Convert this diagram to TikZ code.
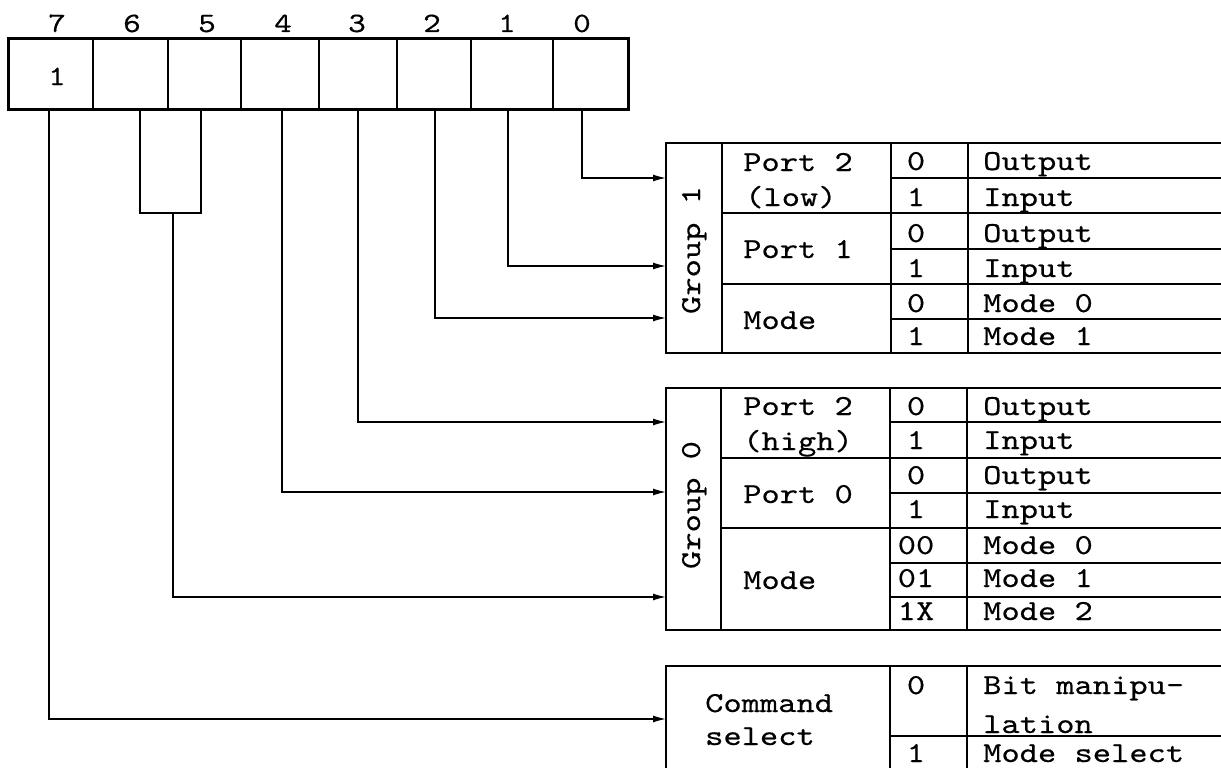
\documentclass[tikz,border=0pt]{standalone}
\usepackage{fontspec}
\newfontfamily\tabfont{lmmono10-regular.otf}[FakeStretch=1.2,FakeBold=0.4]
\usetikzlibrary{arrows.meta}
\begin{document}
\begin{tikzpicture}[x=1pt,y=-1pt,
  regcell/.style={draw, line width=1.3pt, minimum height=70pt, inner sep=0pt},
  bitlbl/.style={anchor=base, inner sep=0pt, font=\tabfont\fontsize{28}{30}\selectfont},
  txt/.style={anchor=base west, inner sep=0pt, font=\tabfont\fontsize{29}{33}\selectfont},
  codetxt/.style={anchor=base, inner sep=0pt, font=\tabfont\fontsize{29}{33}\selectfont},
  grp/.style={rotate=90, anchor=base, inner sep=0pt, font=\tabfont\fontsize{29}{33}\selectfont},
  tframe/.style={line width=2.2pt},
  tline/.style={line width=1.5pt},
  conn/.style={line width=1.3pt},
  arr/.style={conn, -{Latex[length=13pt,width=7pt]}},
]
\useasboundingbox (0,0) rectangle (1221,768);

% register
\node[regcell, minimum width=84pt] (b7) at (51,74) {};
\node[regcell, minimum width=75pt] (b6) at (130.5,74) {};
\node[regcell, minimum width=73pt] (b5) at (204.5,74) {};
\node[regcell, minimum width=78pt] (b4) at (280,74) {};
\node[regcell, minimum width=78pt] (b3) at (358,74) {};
\node[regcell, minimum width=74pt] (b2) at (434,74) {};
\node[regcell, minimum width=82pt] (b1) at (512,74) {};
\node[regcell, minimum width=75pt] (b0) at (590.5,74) {};
\draw[tframe] (b7.north west) rectangle (b0.south east);
\node[bitlbl] (v7) at (57,85) {1};

\node[bitlbl] (l7) at (57,32) {7};
\node[bitlbl] (l6) at (132,32) {6};
\node[bitlbl] (l5) at (207,32) {5};
\node[bitlbl] (l4) at (283,32) {4};
\node[bitlbl] (l3) at (357,32) {3};
\node[bitlbl] (l2) at (432,32) {2};
\node[bitlbl] (l1) at (507,32) {1};
\node[bitlbl] (l0) at (582,32) {0};

% entry points
\coordinate (in0) at (666,178);
\coordinate (in1) at (666,266);
\coordinate (in2) at (666,318);
\coordinate (in3) at (666,422);
\coordinate (in4) at (666,492);
\coordinate (in65) at (666,597);
\coordinate (in7) at (666,719);
\coordinate (br) at (173,213);

% connectors
\draw[arr] ([xshift=-8.5pt]b0.south) |- (in0);
\draw[arr] ([xshift=-4pt]b1.south) |- (in1);
\draw[arr] ([xshift=1pt]b2.south) |- (in2);
\draw[arr] (b3.south) |- (in3);
\draw[arr] ([xshift=2pt]b4.south) |- (in4);
\draw[conn] ([xshift=9.5pt]b6.south) |- (br) -| ([xshift=-3.5pt]b5.south);
\draw[arr] (br) |- (in65);
\draw[arr] ([xshift=-2pt]b7.south) |- (in7);

% Group 1 table
\draw[tframe] (1221,143) -- (666,143) -- (666,353) -- (1221,353);
\draw[tline] (722,143) -- (722,353) (891,143) -- (891,353) (968,143) -- (968,353);
\draw[tline] (722,213) -- (1221,213) (722,284) -- (1221,284);
\draw[tline] (891,178) -- (1221,178) (891,249) -- (1221,249) (891,319) -- (1221,319);
\node[grp] (g1) at (700,250) {Group 1};
\node[txt] (g1p2) at (743,171) {Port 2};
\node[txt] (g1low) at (745,206) {(low)};
\node[txt] (g1p1) at (743,258) {Port 1};
\node[txt] (g1m) at (743,329) {Mode};
\node[codetxt] (g1c1) at (916,170) {0};
\node[codetxt] (g1c2) at (916,206) {1};
\node[codetxt] (g1c3) at (916,242) {0};
\node[codetxt] (g1c4) at (916,277) {1};
\node[codetxt] (g1c5) at (916,312) {0};
\node[codetxt] (g1c6) at (916,345) {1};
\node[txt] (g1v1) at (983,170) {Output};
\node[txt] (g1v2) at (983,206) {Input};
\node[txt] (g1v3) at (983,242) {Output};
\node[txt] (g1v4) at (983,277) {Input};
\node[txt] (g1v5) at (983,312) {Mode 0};
\node[txt] (g1v6) at (983,345) {Mode 1};

% Group 0 table
\draw[tframe] (1221,388) -- (666,388) -- (666,630) -- (1221,630);
\draw[tline] (721,388) -- (721,630) (890,388) -- (890,630) (967,388) -- (967,630);
\draw[tline] (721,458) -- (1221,458) (721,528) -- (1221,528);
\draw[tline] (890,422) -- (1221,422) (890,493) -- (1221,493) (890,563) -- (1221,563) (890,597) -- (1221,597);
\node[grp] (g0) at (700,505) {Group 0};
\node[txt] (g0p2) at (743,415) {Port 2};
\node[txt] (g0high) at (743,450) {(high)};
\node[txt] (g0p0) at (743,503) {Port 0};
\node[txt] (g0m) at (743,589) {Mode};
\node[codetxt] (g0c1) at (916,415) {0};
\node[codetxt] (g0c2) at (916,449) {1};
\node[codetxt] (g0c3) at (916,484) {0};
\node[codetxt] (g0c4) at (916,518) {1};
\node[codetxt] (g0c5) at (916,554) {00};
\node[codetxt] (g0c6) at (916,587) {01};
\node[codetxt] (g0c7) at (916,620) {1X};
\node[txt] (g0v1) at (983,415) {Output};
\node[txt] (g0v2) at (983,449) {Input};
\node[txt] (g0v3) at (983,484) {Output};
\node[txt] (g0v4) at (983,518) {Input};
\node[txt] (g0v5) at (983,554) {Mode 0};
\node[txt] (g0v6) at (983,587) {Mode 1};
\node[txt] (g0v7) at (983,620) {Mode 2};

% Command select table
\draw[tframe] (666,768) -- (666,666) -- (1221,666);
\draw[tline] (890,666) -- (890,768) (967,666) -- (967,768);
\draw[tline] (890,736) -- (1221,736);
\node[txt] (cs1) at (705,712) {Command};
\node[txt] (cs2) at (705,745) {select};
\node[codetxt] (csc1) at (916,694) {0};
\node[codetxt] (csc2) at (916,762) {1};
\node[txt] (csv1) at (983,694) {Bit manipu-};
\node[txt] (csv2) at (983,733) {lation};
\node[txt] (csv3) at (983,762) {Mode select};
\end{tikzpicture}
\end{document}
